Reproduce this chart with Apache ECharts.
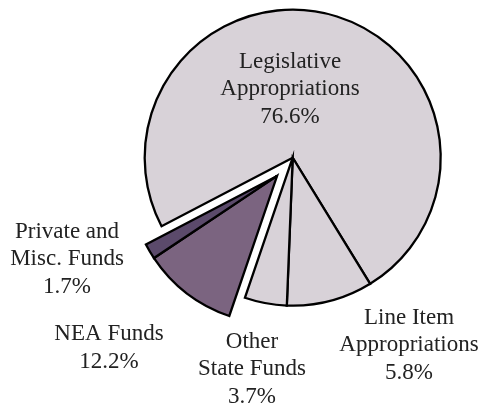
<!DOCTYPE html>
<html>
<head>
<meta charset="utf-8">
<script src="https://cdn.jsdelivr.net/npm/echarts@6/dist/echarts.min.js"></script>
<style>html,body{margin:0;padding:0;background:#fff}#c{width:481px;height:406px}</style>
</head>
<body>
<div id="c"></div>
<script>
// ---- data ----
const categories = ['Legislative Appropriations', 'Line Item Appropriations', 'Other State Funds', 'NEA Funds', 'Private and Misc. Funds'];
const labelNames = ['Legislative\nAppropriations', 'Line Item\nAppropriations', 'Other\nState Funds', 'NEA Funds', 'Private and\nMisc. Funds'];
const percentLabels = ['76.6%', '5.8%', '3.7%', '12.2%', '1.7%'];
// slice sizes as drawn in the picture (share of the circle, %)
const sliceValues = [73.9, 9.4, 4.6, 10.4, 1.7];
const explodedIdx = [3, 4];

// ---- layout / style ----
const colors = ['#d8d2d8', '#d8d2d8', '#d8d2d8', '#7b6480', '#5b4a6b'];
const labelPos = [[290, 89], [409, 345], [252, 369], [109, 348], [67, 259]];
const C = [292.7, 157.7];
const R = 148;
const startScreen = 152.4; // degrees, clockwise from +x (screen)
const offset = 24;

const total = sliceValues.reduce((a, b) => a + b, 0);
const before = sliceValues.slice(0, explodedIdx[0]).reduce((a, b) => a + b, 0);
const groupStart = startScreen + 360 * before / total;
const groupEnd = startScreen + 360;
const mid = (groupStart + groupEnd) / 2 * Math.PI / 180;
const C2 = [C[0] + offset * Math.cos(mid), C[1] + offset * Math.sin(mid)];

function item(i) {
  return { name: categories[i], value: sliceValues[i], idx: i, itemStyle: { color: colors[i] } };
}
function placeholder(v) {
  return { name: '_', value: v, itemStyle: { color: 'rgba(0,0,0,0)', borderWidth: 0 }, label: { show: false } };
}

const mainData = [], expData = [];
let restSum = 0, expSum = 0;
for (let i = 0; i < sliceValues.length; i++) {
  if (explodedIdx.includes(i)) {
    expData.push(item(i));
    expSum += sliceValues[i];
  } else {
    mainData.push(item(i));
    restSum += sliceValues[i];
  }
}
mainData.push(placeholder(expSum));
expData.unshift(placeholder(restSum));

function makeSeries(center, data) {
  return {
    type: 'pie',
    center: center,
    radius: R,
    startAngle: 360 - startScreen,
    clockwise: true,
    animation: false,
    silent: true,
    avoidLabelOverlap: false,
    minShowLabelAngle: 0,
    itemStyle: { borderColor: '#000', borderWidth: 2.3, borderJoin: 'miter' },
    label: {
      show: true,
      position: 'outside',
      fontFamily: 'Liberation Serif',
      fontSize: 23,
      lineHeight: 27.5,
      color: '#222',
      align: 'center',
      formatter: function (p) {
        const i = categories.indexOf(p.name);
        return labelNames[i] + '\n' + percentLabels[i];
      }
    },
    labelLine: { show: false },
    labelLayout: function (p) {
      const d = data[p.dataIndex];
      if (!d || d.idx === undefined) return {};
      const pos = labelPos[d.idx];
      return { x: pos[0], y: pos[1], align: 'center', verticalAlign: 'middle', hideOverlap: false };
    },
    emphasis: { disabled: true },
    data: data
  };
}

const chart = echarts.init(document.getElementById('c'), null, { renderer: 'canvas' });
chart.setOption({
  backgroundColor: '#fff',
  series: [makeSeries(C, mainData), makeSeries(C2, expData)]
});
</script>
</body>
</html>
